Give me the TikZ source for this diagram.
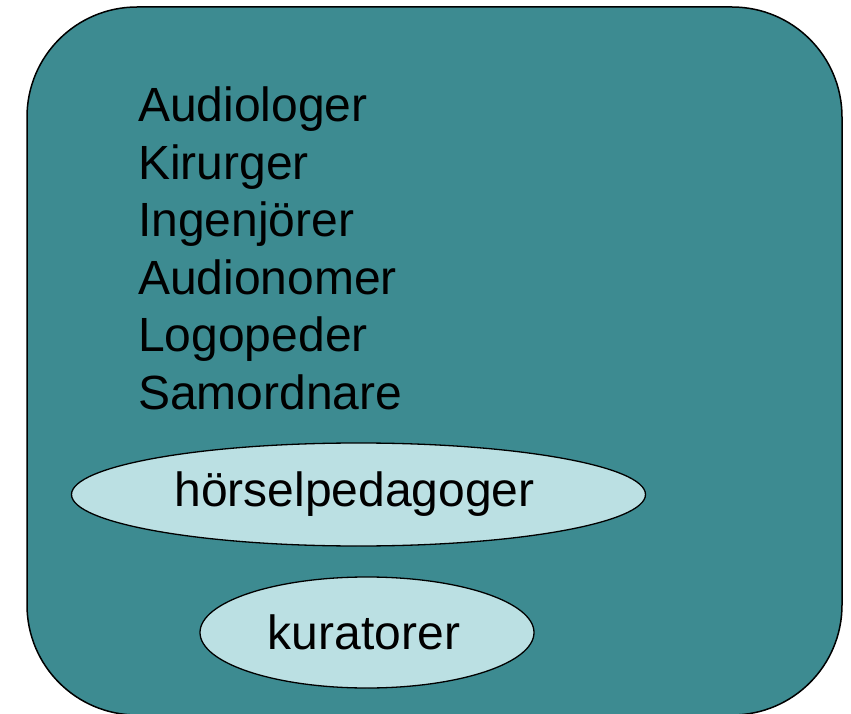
\documentclass[tikz,border=0pt]{standalone}
\usepackage{fontspec}
\setmainfont{Liberation Sans}
\usetikzlibrary{shapes.geometric}
\definecolor{teal}{RGB}{61,139,145}
\definecolor{lightteal}{RGB}{187,224,227}
\begin{document}
\begin{tikzpicture}[x=1pt,y=1pt,
  item/.style={anchor=base west,inner sep=0pt,font=\fontsize{48}{57}\selectfont},
  oval/.style={ellipse,draw=black,line width=1.3pt,fill=lightteal,inner sep=0pt,font=\fontsize{48}{57}\selectfont}]
\useasboundingbox (0,0) rectangle (851,713);
\draw[fill=teal,line width=1.5pt,rounded corners=110pt] (27,-2) rectangle (842,706);
\node[item] (a1) at (138,591) {Audiologer};
\node[item] (a2) at (138,533.5) {Kirurger};
\node[item] (a3) at (138,476) {Ingenjörer};
\node[item] (a4) at (138,418.5) {Audionomer};
\node[item] (a5) at (138,361) {Logopeder};
\node[item] (a6) at (138,303.5) {Samordnare};
\node[oval,minimum width=574pt,minimum height=103pt] (h) at (358.5,218.5) {};
\node[inner sep=0pt,font=\fontsize{48}{57}\selectfont] (ht) at (354.5,218.5) {hörselpedagoger};
\node[oval,minimum width=334pt,minimum height=111pt] (k) at (367,80.5) {};
\node[inner sep=0pt,font=\fontsize{48}{57}\selectfont] (kt) at (364,80.5) {kuratorer};
\end{tikzpicture}
\end{document}
